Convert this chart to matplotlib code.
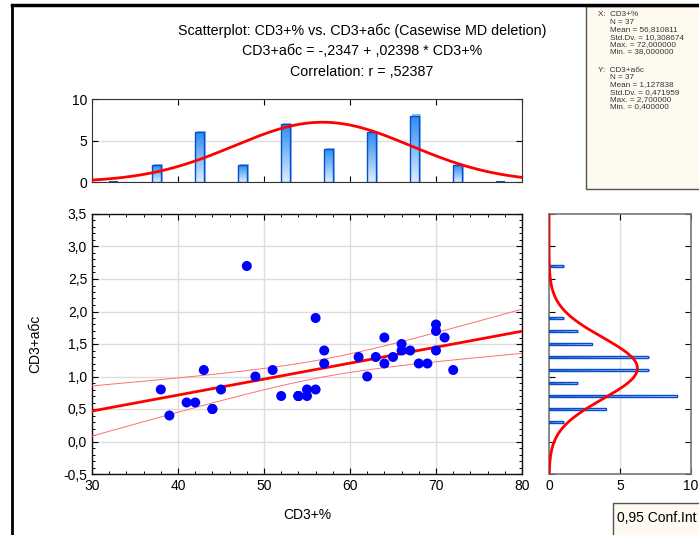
import numpy as np
import matplotlib
matplotlib.use("Agg")
import matplotlib.pyplot as plt
from matplotlib.patches import Rectangle
from matplotlib.ticker import FixedLocator, MultipleLocator

plt.rcParams['font.family'] = ['Liberation Sans', 'DejaVu Sans']

# ---------------- data ----------------
cd3_pct = [38, 39, 41, 42, 43, 44, 44, 45, 48, 49, 51, 52, 54, 54, 54, 55, 55,
           56, 56, 57, 57, 61, 62, 63, 64, 64, 65, 66, 66, 67, 68, 69, 70, 70,
           70, 71, 72]
cd3_abs = [0.8, 0.4, 0.6, 0.6, 1.1, 0.5, 0.5, 0.8, 2.7, 1.0, 1.1, 0.7, 0.7, 0.7,
           0.7, 0.8, 0.7, 0.8, 1.9, 1.4, 1.2, 1.3, 1.0, 1.3, 1.6, 1.2, 1.3, 1.5,
           1.4, 1.4, 1.2, 1.2, 1.8, 1.7, 1.4, 1.6, 1.1]

x_bin_centers = [32.5, 37.5, 42.5, 47.5, 52.5, 57.5, 62.5, 67.5, 72.5, 77.5]
x_bin_counts = [0, 2, 6, 2, 7, 4, 6, 8, 2, 0]
y_bin_centers = [0.1, 0.3, 0.5, 0.7, 0.9, 1.1, 1.3, 1.5, 1.7, 1.9, 2.1, 2.3, 2.5, 2.7]
y_bin_counts = [0, 1, 4, 9, 2, 7, 7, 3, 2, 1, 0, 0, 0, 1]

x_ticks = [30, 40, 50, 60, 70, 80]
x_tick_labels = ['30', '40', '50', '60', '70', '80']
y_ticks = [-0.5, 0.0, 0.5, 1.0, 1.5, 2.0, 2.5, 3.0, 3.5]
y_tick_labels = ['-0,5', '0,0', '0,5', '1,0', '1,5', '2,0', '2,5', '3,0', '3,5']
hist_ticks = [0, 5, 10]
hist_tick_labels = ['0', '5', '10']

title_lines = ["Scatterplot: CD3+% vs. CD3+абс (Casewise MD deletion)",
               "CD3+абс = -,2347 + ,02398 * CD3+%",
               "Correlation: r = ,52387"]
stats_x = ["X:  CD3+%", "N = 37", "Mean = 56,810811", "Std.Dv. = 10,308674",
           "Max. = 72,000000", "Min. = 38,000000"]
stats_y = ["Y:  CD3+абс", "N = 37", "Mean = 1,127838", "Std.Dv. = 0,471959",
           "Max. = 2,700000", "Min. = 0,400000"]
t_crit = 2.0301  # t(0.975, 35)

x = np.array(cd3_pct, float)
y = np.array(cd3_abs, float)
n = len(x)

W, H = 699, 535
fig = plt.figure(figsize=(W / 100, H / 100), dpi=100)
fig.patch.set_facecolor('white')

def fx(px):
    return px / W

def fy(py):
    return 1 - py / H

# outer frame lines
fig.add_artist(plt.Line2D([fx(12), fx(12)], [fy(5), 0], color='black', lw=2))
fig.add_artist(plt.Line2D([fx(12), 1], [fy(4.5), fy(4.5)], color='black', lw=2.5))

# titles
for t, py in zip(title_lines, [31, 51, 72]):
    fig.text(fx(362), fy(py), t, ha='center', va='center', fontsize=10.3)

# stats box
fig.add_artist(Rectangle((fx(586), fy(189)), 1, fy(6) - fy(189), transform=fig.transFigure,
                         facecolor='#FFFAF0', edgecolor='#555555', lw=1.0))
for i, s in enumerate(stats_x):
    fig.text(fx(598 if i == 0 else 610), fy(15 + 7.4 * i), s, fontsize=5.9,
             va='center', ha='left', color='#333333')
for i, s in enumerate(stats_y):
    fig.text(fx(598 if i == 0 else 610), fy(70 + 7.4 * i), s, fontsize=5.9,
             va='center', ha='left', color='#333333')

# conf int box
fig.add_artist(Rectangle((fx(613), fy(560)), 1, fy(503) - fy(560), transform=fig.transFigure,
                         facecolor='#FFFAF0', edgecolor='#555555', lw=1.0))
fig.text(fx(617), fy(518), "0,95 Conf.Int", fontsize=10, va='center', ha='left')

# ---------------- axes ----------------
ax = fig.add_axes([fx(92), fy(474), (522 - 92) / W, (474 - 214) / H])
axt = fig.add_axes([fx(92), fy(182), (522 - 92) / W, (182 - 99) / H])
axr = fig.add_axes([fx(549), fy(474), (691 - 549) / W, (474 - 214) / H])

xmin, xmax = 30, 80
ymin, ymax = -0.5, 3.5

# main scatter
ax.set_xlim(xmin, xmax)
ax.set_ylim(ymin, ymax)
ax.xaxis.set_major_locator(FixedLocator(x_ticks))
ax.set_xticklabels(x_tick_labels)
ax.yaxis.set_major_locator(FixedLocator(y_ticks))
ax.set_yticklabels(y_tick_labels)
ax.xaxis.set_minor_locator(MultipleLocator(2))
ax.yaxis.set_minor_locator(MultipleLocator(0.1))
ax.tick_params(which='both', direction='in', top=True, right=True, labelsize=10)
ax.tick_params(which='major', length=4, width=0.8)
ax.tick_params(which='minor', length=2.5, width=0.7)
ax.grid(True, which='major', color='#DDDDDD', lw=1.0)
ax.set_axisbelow(True)
for sp in ax.spines.values():
    sp.set_color('#111111')
    sp.set_linewidth(1.0)

slope, intercept = np.polyfit(x, y, 1)
xx = np.linspace(xmin, xmax, 200)
yhat = intercept + slope * xx
resid = y - (intercept + slope * x)
s_err = np.sqrt(np.sum(resid ** 2) / (n - 2))
sxx = np.sum((x - x.mean()) ** 2)
half = t_crit * s_err * np.sqrt(1 / n + (xx - x.mean()) ** 2 / sxx)
ax.plot(xx, yhat + half, color='#FF7070', lw=0.7, zorder=3)
ax.plot(xx, yhat - half, color='#FF7070', lw=0.7, zorder=3)
ax.plot(xx, yhat, color='#FF0000', lw=2.0, zorder=3)
ax.scatter(x, y, s=52, color='#0000FF', edgecolors='none', zorder=4)
ax.set_xlabel("CD3+%", fontsize=10, labelpad=11)
ax.set_ylabel("CD3+абс", fontsize=10, labelpad=15)

# gradient helper
grad = np.linspace(0, 1, 64)

def vbar(a, c, w, h):
    if h <= 0:
        a.add_patch(Rectangle((c - w / 2, -0.08), w, 0.16, facecolor='#1F4FA0',
                              edgecolor='none', zorder=3))
        return
    a.add_patch(Rectangle((c - w / 2 + 0.25, 0), w, h + 0.15, facecolor='#8CC0F5',
                          edgecolor='none', zorder=2))
    im = a.imshow(grad[:, None], extent=[c - w / 2, c + w / 2, 0, h], origin='lower',
                  cmap=matplotlib.colors.LinearSegmentedColormap.from_list(
                      'g', ['#DCEEFF', '#2A8CF0']),
                  aspect='auto', zorder=3)
    r = Rectangle((c - w / 2, 0), w, h, facecolor='none', edgecolor='#0A4CCC', lw=1.0,
                  zorder=4)
    a.add_patch(r)
    im.set_clip_path(r)

def hbar(a, c, hgt, w):
    if w <= 0:
        a.add_patch(Rectangle((-0.05, c - hgt / 2), 0.1, hgt, facecolor='#6F9FE0',
                              edgecolor='none', zorder=3))
        return
    a.add_patch(Rectangle((0, c - hgt / 2 - 0.012), w + 0.1, hgt + 0.012,
                          facecolor='#9CC8F5', edgecolor='none', zorder=2))
    im = a.imshow(grad[None, :], extent=[0, w, c - hgt / 2, c + hgt / 2], origin='lower',
                  cmap=matplotlib.colors.LinearSegmentedColormap.from_list(
                      'g2', ['#2A6CE0', '#CFE6FF']),
                  aspect='auto', zorder=3)
    r = Rectangle((0, c - hgt / 2), w, hgt, facecolor='none', edgecolor='#0A4CCC', lw=1.0,
                  zorder=4)
    a.add_patch(r)
    im.set_clip_path(r)

# top histogram
for c, h in zip(x_bin_centers, x_bin_counts):
    vbar(axt, c, 1.05, h)
xs = np.linspace(xmin, xmax, 300)
mx, sx = x.mean(), x.std(ddof=1)
axt.plot(xs, n * 5 / (sx * np.sqrt(2 * np.pi)) * np.exp(-0.5 * ((xs - mx) / sx) ** 2),
         color='#FF0000', lw=2.0, zorder=5)
axt.set_xlim(xmin, xmax)
axt.set_ylim(0, 10)
axt.xaxis.set_major_locator(FixedLocator(x_ticks))
axt.yaxis.set_major_locator(FixedLocator(hist_ticks))
axt.set_yticklabels(hist_tick_labels)
axt.tick_params(direction='in', top=True, right=True, labelbottom=False, labelsize=10,
                length=4, width=0.8)
axt.grid(True, axis='y', color='#DDDDDD', lw=1.0)
axt.set_axisbelow(True)
for sp in axt.spines.values():
    sp.set_color('#333333')

# right histogram
for c, w in zip(y_bin_centers, y_bin_counts):
    hbar(axr, c, 0.045, w)
ys = np.linspace(ymin, ymax, 300)
my, sy = y.mean(), y.std(ddof=1)
axr.plot(n * 0.2 / (sy * np.sqrt(2 * np.pi)) * np.exp(-0.5 * ((ys - my) / sy) ** 2), ys,
         color='#FF0000', lw=2.0, zorder=5)
axr.set_xlim(0, 10)
axr.set_ylim(ymin, ymax)
axr.xaxis.set_major_locator(FixedLocator(hist_ticks))
axr.set_xticklabels(hist_tick_labels)
axr.yaxis.set_major_locator(FixedLocator(y_ticks))
axr.tick_params(direction='in', top=True, right=True, labelleft=False, labelsize=10,
                length=4, width=0.8)
axr.grid(True, axis='x', color='#DDDDDD', lw=1.0)
axr.set_axisbelow(True)
for sp in axr.spines.values():
    sp.set_color('#777777')
    sp.set_linewidth(1.2)

fig.savefig('out.png', dpi=100)
